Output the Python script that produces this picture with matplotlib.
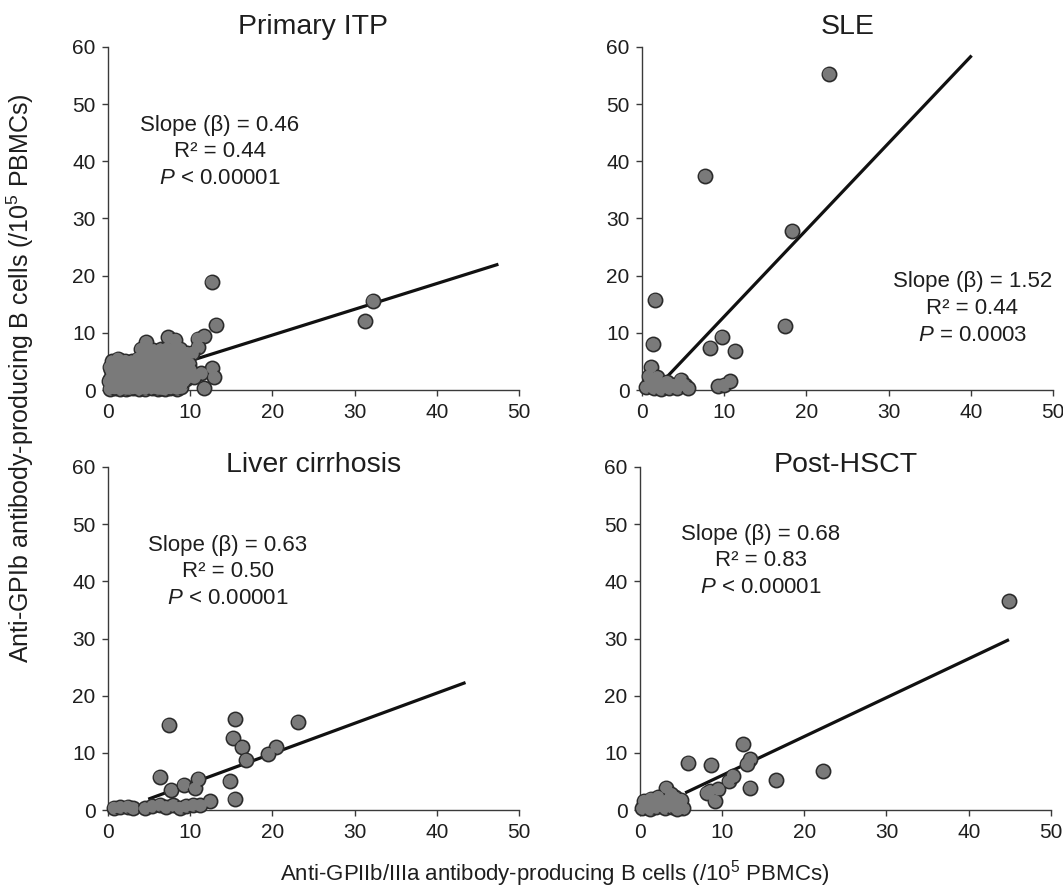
import numpy as np
import matplotlib
matplotlib.use("Agg")
import matplotlib.pyplot as plt

plt.rcParams["font.family"] = ["Liberation Sans", "DejaVu Sans"]
plt.rcParams["mathtext.fontset"] = "custom"
plt.rcParams["mathtext.rm"] = "Liberation Sans"
plt.rcParams["mathtext.it"] = "Liberation Sans:italic"

# Primary ITP
itp_x = [0.2, 0.8, 1.5, 2.2, 3.0, 3.8, 4.5, 5.3, 6.1, 6.9, 7.6, 8.4,
         0.5, 1.3, 2.0, 2.8, 3.5, 4.3, 5.0, 5.8, 6.5, 7.3, 8.0, 8.8,
         0.3, 1.0, 1.8, 2.6, 3.3, 4.1, 4.9, 5.6, 6.4, 7.2, 8.0, 8.9, 9.5,
         0.6, 1.4, 2.2, 3.0, 3.8, 4.6, 5.4, 6.2, 7.0, 7.8, 8.6, 9.3,
         0.2, 1.0, 1.8, 2.6, 3.4, 4.2, 5.0, 5.8, 6.6, 7.4, 8.2, 9.0,
         0.5, 1.3, 2.1, 2.9, 3.7, 4.5, 5.3, 6.1, 6.9, 7.7, 8.5, 9.3,
         0.9, 1.7, 2.5, 3.3, 4.1, 4.9, 5.7, 6.5, 7.3, 8.1, 8.9,
         0.1, 1.1, 1.9, 2.4, 3.2, 4.0, 4.8, 5.6, 6.8, 7.5, 8.3, 9.1,
         0.7, 1.6, 2.7, 3.6, 4.4, 5.2, 6.0, 6.7, 7.5, 8.3, 9.2,
         0.4, 1.2, 2.0, 2.8, 3.9, 4.7, 5.5, 6.3, 7.1, 7.9, 8.7,
         4.3, 5.1, 5.9, 6.7, 7.5, 8.3, 9.0,
         4.9, 6.3, 7.1, 7.9, 8.7, 9.6,
         4.0, 5.5, 6.4, 7.2, 8.0, 8.8,
         4.65, 7.3, 8.2, 10.9, 11.7, 10.9, 1.2, 3.6, 10.2, 9.9,
         12.7, 12.9, 11.3, 11.7, 10.5, 10.0,
         12.6, 13.2, 32.2, 31.3]
itp_y = [0.2, 0.3, 0.1, 0.2, 0.3, 0.1, 0.2, 0.3, 0.2, 0.1, 0.3, 0.2,
         1.0, 1.1, 0.9, 1.0, 1.2, 0.9, 1.0, 1.1, 0.9, 1.0, 1.2, 1.0,
         2.0, 2.1, 1.9, 2.0, 2.2, 1.9, 2.0, 2.1, 1.9, 2.0, 2.2, 2.0, 1.9,
         3.0, 3.1, 2.9, 3.0, 3.2, 2.9, 3.0, 3.1, 2.9, 3.0, 3.2, 3.0,
         4.0, 4.1, 3.9, 4.0, 4.2, 3.9, 4.0, 4.1, 3.9, 4.0, 4.2, 4.0,
         5.0, 5.3, 5.1, 5.0, 5.2, 5.1, 5.0, 5.1, 5.2, 5.0, 5.2, 5.0,
         0.5, 0.6, 0.4, 0.6, 0.5, 0.7, 0.5, 0.4, 0.6, 0.5, 0.6,
         1.5, 1.6, 1.4, 1.6, 1.5, 1.4, 1.6, 1.5, 1.4, 1.6, 1.5, 1.5,
         2.5, 2.6, 2.4, 2.5, 2.6, 2.4, 2.5, 2.6, 2.5, 2.4, 2.6,
         3.5, 3.6, 3.4, 3.5, 3.6, 3.4, 3.5, 3.6, 3.5, 3.4, 3.6,
         6.1, 6.0, 6.2, 6.0, 6.1, 6.2, 6.0,
         6.6, 6.7, 6.5, 6.7, 6.6, 6.5,
         7.2, 7.0, 7.1, 7.3, 7.0, 7.2,
         8.4, 9.2, 8.8, 9.0, 9.4, 7.5, 5.5, 5.5, 6.5, 4.6,
         3.8, 2.3, 2.9, 0.3, 2.3, 3.5,
         18.9, 11.4, 15.6, 12.0]

# SLE
sle_x = [22.7, 7.65, 18.3, 1.6, 1.3, 1.1, 17.4, 9.7, 8.3, 11.3,
         9.3, 10.0, 10.7,
         0.5, 1.0, 1.4, 2.0, 2.3, 2.8, 3.3, 3.8, 4.3, 4.7, 5.2, 5.6,
         0.8, 1.8, 3.0]
sle_y = [55.3, 37.4, 27.8, 15.8, 8.0, 4.0, 11.2, 9.3, 7.4, 6.8,
         0.7, 0.9, 1.5,
         0.5, 1.8, 0.3, 1.0, 0.2, 0.7, 0.3, 0.9, 0.4, 1.8, 0.8, 0.3,
         2.4, 2.2, 1.4]

# Liver cirrhosis
lc_x = [7.4, 15.5, 23.1, 15.2, 16.3, 20.5, 19.5, 16.8,
        6.3, 7.7, 9.2, 10.6, 11.0, 14.8, 15.4, 12.4,
        0.7, 1.5, 2.4, 3.0, 4.5, 5.4, 6.3, 7.1, 7.9, 8.7, 9.5, 10.4, 11.2]
lc_y = [14.9, 15.9, 15.4, 12.6, 11.0, 11.0, 9.8, 8.8,
        5.8, 3.5, 4.4, 3.8, 5.5, 5.0, 1.9, 1.5,
        0.4, 0.5, 0.6, 0.3, 0.3, 0.7, 0.9, 0.5, 0.8, 0.4, 0.7, 0.9, 0.8]

# Post-HSCT
hsct_x = [44.9, 12.55, 13.4, 13.0, 5.9, 8.7, 22.3, 16.6, 13.4, 10.8, 11.3,
          8.5, 9.5, 9.1, 8.1, 3.2,
          0.3, 0.8, 1.2, 1.6, 2.0, 2.5, 3.0, 3.4, 3.9, 4.3, 4.8, 5.3, 5.0,
          0.5, 1.3, 2.2, 3.8, 4.5]
hsct_y = [36.5, 11.5, 8.9, 8.0, 8.3, 7.9, 6.8, 5.2, 3.9, 5.0, 6.0,
          3.3, 3.6, 1.6, 3.0, 3.9,
          0.3, 0.8, 0.2, 1.2, 0.5, 1.5, 0.4, 1.8, 0.6, 2.2, 1.0, 0.3, 1.8,
          1.6, 2.0, 2.3, 2.8, 0.2]

titles = ["Primary ITP", "SLE", "Liver cirrhosis", "Post-HSCT"]
xs = [itp_x, sle_x, lc_x, hsct_x]
ys = [itp_y, sle_y, lc_y, hsct_y]
fit_x = [(0, 47.5), (3.1, 40.1), (4.9, 43.5), (5.5, 44.9)]
fit_y = [(0.6, 22.0), (2.4, 58.5), (1.9, 22.3), (3.0, 29.8)]
stats = [["Slope (\u03b2) = 0.46", "R\u00b2 = 0.44", "$\\it{P}$ < 0.00001"],
         ["Slope (\u03b2) = 1.52", "R\u00b2 = 0.44", "$\\it{P}$ = 0.0003"],
         ["Slope (\u03b2) = 0.63", "R\u00b2 = 0.50", "$\\it{P}$ < 0.00001"],
         ["Slope (\u03b2) = 0.68", "R\u00b2 = 0.83", "$\\it{P}$ < 0.00001"]]
stat_x = [13.6, 40.2, 14.6, 14.7]
stat_y = [(46.3, 41.7, 37.0), (18.9, 14.3, 9.6), (46.3, 41.7, 37.0), (48.2, 43.6, 38.9)]
title_y = [1.058, 1.058, 1.005, 1.005]

fig = plt.figure(figsize=(10.63, 8.88), dpi=100)
pos = [[0.1016, 0.5608, 0.3866, 0.3863],
       [0.604, 0.5608, 0.3866, 0.3863],
       [0.1016, 0.0878, 0.3866, 0.3863],
       [0.602, 0.0878, 0.3866, 0.3863]]
txt = "#1e1e1e"
for i in range(4):
    ax = fig.add_axes(pos[i])
    ax.plot(fit_x[i], fit_y[i], color="#111111", lw=2.3, zorder=2,
            solid_capstyle="butt")
    # outlined dots, then fill again so touching dots merge into one blob
    ax.scatter(xs[i], ys[i], s=105, facecolor="#7a7a7a", edgecolor="#2b2b2b",
               linewidth=1.2, zorder=3, clip_on=False)
    ax.scatter(xs[i], ys[i], s=72, facecolor="#7a7a7a", edgecolor="none",
               zorder=4, clip_on=False)
    ax.set_xlim(0, 50)
    ax.set_ylim(0, 60)
    ax.set_xticks(range(0, 51, 10))
    ax.set_yticks(range(0, 61, 10))
    for s in ["top", "right"]:
        ax.spines[s].set_visible(False)
    for s in ["left", "bottom"]:
        ax.spines[s].set_color("#3a3a3a")
        ax.spines[s].set_linewidth(1.0)
    ax.tick_params(direction="out", length=4, width=1, colors="#3a3a3a",
                   labelsize=15, labelcolor=txt, pad=5)
    ax.text(0.5, title_y[i], titles[i], transform=ax.transAxes,
            ha="center", va="center", fontsize=20.5, color=txt)
    for line, yy in zip(stats[i], stat_y[i]):
        ax.text(stat_x[i], yy, line, ha="center", va="center",
                fontsize=16, color=txt)

fig.text(0.019, 0.574, "Anti-GPIb antibody-producing B cells (/10$^5$ PBMCs)",
         rotation=90, ha="center", va="center", fontsize=18, color=txt)
fig.text(0.522, 0.016, "Anti-GPIIb/IIIa antibody-producing B cells (/10$^5$ PBMCs)",
         ha="center", va="center", fontsize=16, color=txt)

fig.savefig("out.png", dpi=100)
